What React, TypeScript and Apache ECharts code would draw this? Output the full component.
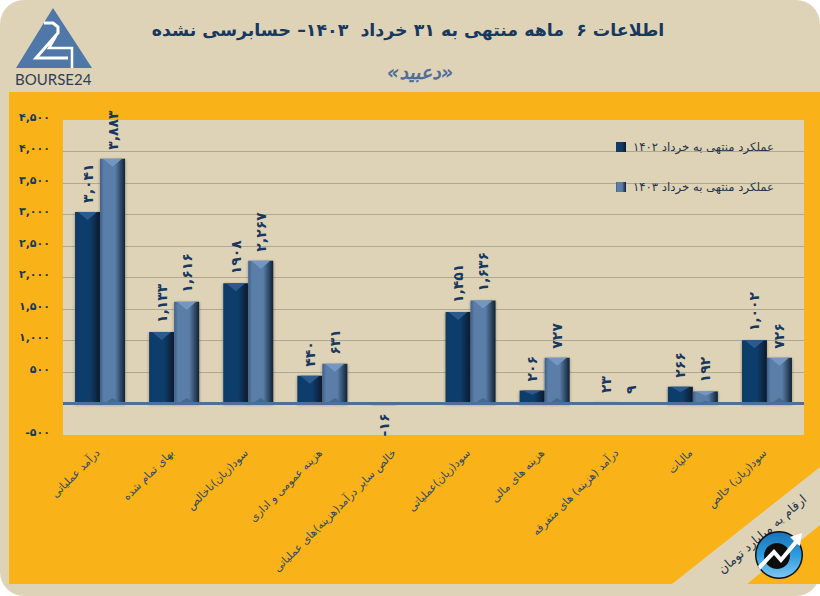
import React, { useEffect, useRef } from "react";
import * as echarts from "echarts";

const categories = [
  "درآمد عملیاتی",
  "بهای تمام شده",
  "سود(زیان)ناخالص",
  "هزینه عمومی و اداری",
  "خالص سایر درآمد(هزینه)های عملیاتی",
  "سود(زیان)عملیاتی",
  "هزینه های مالی",
  "درآمد (هزینه) های متفرقه",
  "مالیات",
  "سود(زیان) خالص",
];
const values1402 = [3041, 1133, 1908, 440, -16, 1451, 206, 23, 266, 1002];
const values1403 = [3883, 1616, 2267, 631, null, 1636, 727, 9, 192, 726];
const labels1402 = ["۳,۰۴۱", "۱,۱۳۳", "۱۹۰۸", "۴۴۰", "-۱۶", "۱,۴۵۱", "۲۰۶", "۲۳", "۲۶۶", "۱,۰۰۲"];
const labels1403 = ["۳,۸۸۳", "۱,۶۱۶", "۲,۲۶۷", "۶۳۱", "", "۱,۶۳۶", "۷۲۷", "۹", "۱۹۲", "۷۲۶"];
const yTicks = ["-۵۰۰", "", "۵۰۰", "۱,۰۰۰", "۱,۵۰۰", "۲,۰۰۰", "۲,۵۰۰", "۳,۰۰۰", "۳,۵۰۰", "۴,۰۰۰", "۴,۵۰۰"];
const seriesNames = ["عملکرد منتهی به خرداد ۱۴۰۲", "عملکرد منتهی به خرداد ۱۴۰۳"];
const titleText = "اطلاعات ۶  ماهه منتهی به ۳۱ خرداد  ۱۴۰۳– حسابرسی نشده";
const subtitleText = "«دعبید»";
const unitText = "ارقام به میلیارد تومان";

const FONT = '"DejaVu Sans", sans-serif';
const BEIGE = "#dfd3b7";
const ORANGE = "#f9b218";
const NAVY = "#17385f";
const STEEL = "#4f78a8";

const hGrad = (left: string, mid: string, right: string) =>
  new echarts.graphic.LinearGradient(0, 0, 1, 0, [
    { offset: 0, color: left },
    { offset: 0.15, color: mid },
    { offset: 0.6, color: mid },
    { offset: 1, color: right },
  ]);

const bevelRender = (offset: number, tone: string, toneBottom: string) => (_p: any, api: any) => {
  const i = api.value(0);
  const v = api.value(1);
  const top = api.coord([i, v]);
  const base = api.coord([i, 0]);
  const x0 = top[0] + offset - 12.5;
  const x1 = top[0] + offset + 12.5;
  const h = base[1] - top[1];
  if (h < 6) return { type: "group", children: [] };
  const d = Math.min(8, h / 3);
  const xm = (x0 + x1) / 2;
  return {
    type: "group",
    silent: true,
    children: [
      {
        type: "polygon",
        shape: { points: [[x0 + 3, top[1]], [x1 - 3, top[1]], [xm, top[1] + d]] },
        style: { fill: tone },
      },
      {
        type: "polygon",
        shape: { points: [[x0 + 4, base[1]], [x1 - 4, base[1]], [xm, base[1] - d * 0.7]] },
        style: { fill: toneBottom },
      },
    ],
  };
};

const barLabel = {
  show: true,
  position: "top" as const,
  distance: 9,
  rotate: 90,
  align: "left" as const,
  verticalAlign: "middle" as const,
  fontFamily: FONT,
  fontWeight: "bold" as const,
  fontSize: 14,
  color: NAVY,
};

const barData = (values: (number | null)[], labels: string[]) =>
  values.map((v, i) => ({
    value: v,
    label:
      v !== null && v < 0
        ? { ...barLabel, position: "bottom" as const, align: "right" as const, formatter: labels[i] }
        : { ...barLabel, formatter: labels[i] },
  }));

const bevelData = (values: (number | null)[]) =>
  values.map((v, i) => [i, v === null || v < 0 ? 0 : v]);

echarts.graphic.registerShape(
  "logoArrow",
  echarts.graphic.extendPath(
    "M758 566L774 549L781 557L794 541L790 537L802 533L800 546L797 544L781 563L774 555L760 570Z",
    {}
  ) as any
);

export default function App() {
  const ref = useRef<HTMLDivElement>(null);
  useEffect(() => {
    const chart = echarts.init(ref.current!, undefined, { renderer: "svg" });
    chart.setOption({
      animation: false,
      backgroundColor: "#ffffff",
      textStyle: { fontFamily: FONT },
      grid: {
        left: 63,
        right: 16,
        top: 120,
        bottom: 161,
        show: true,
        backgroundColor: BEIGE,
        borderWidth: 0,
        containLabel: false,
        outerBoundsMode: "none",
      },
      legend: {
        left: 611,
        top: 136,
        orient: "vertical",
        icon: "rect",
        itemWidth: 10,
        itemHeight: 10,
        itemGap: 28,
        data: seriesNames,
        textStyle: { fontFamily: FONT, fontSize: 11.7, color: "#26364a", padding: [0, 0, 0, 2] },
      },
      xAxis: {
        type: "category",
        data: categories,
        axisLine: { show: false, onZero: false },
        axisTick: { show: false },
        axisLabel: {
          interval: 0,
          rotate: 45,
          margin: 14,
          padding: [0, 3, 0, 0],
          fontFamily: FONT,
          fontSize: 10.9,
          color: "#2f4a63",
        },
      },
      yAxis: {
        type: "value",
        min: -500,
        max: 4500,
        interval: 500,
        axisLine: { show: false },
        axisTick: { show: false },
        splitLine: {
          show: true,
          showMinLine: false,
          showMaxLine: false,
          lineStyle: { color: "#aea893", width: 1 },
        },
        axisLabel: {
          margin: 13,
          verticalAlign: "bottom",
          lineHeight: 6,
          fontFamily: FONT,
          fontWeight: "bold",
          fontSize: 11,
          color: NAVY,
          formatter: (v: number) => yTicks[Math.round((v + 500) / 500)],
        },
      },
      series: [
        {
          name: seriesNames[0],
          type: "bar",
          barWidth: 25,
          barGap: 0,
          data: barData(values1402, labels1402),
          itemStyle: {
            color: hGrad("#123a63", "#0f3c6b", "#071a2e"),
            shadowBlur: 3,
            shadowColor: "rgba(40,40,40,0.45)",
            shadowOffsetY: 1,
          },
          markLine: {
            silent: true,
            symbol: "none",
            label: { show: false },
            lineStyle: { color: "#4f6f9a", width: 3, type: "solid" },
            data: [{ yAxis: 0 }],
            z: 5,
          },
        },
        {
          name: seriesNames[1],
          type: "bar",
          barWidth: 25,
          barGap: 0,
          data: barData(values1403, labels1403),
          itemStyle: {
            color: hGrad("#3f6088", "#5a7ea7", "#0f2236"),
            shadowBlur: 3,
            shadowColor: "rgba(40,40,40,0.45)",
            shadowOffsetY: 1,
          },
        },
        {
          name: "bevel1402",
          type: "custom",
          silent: true,
          z: 3,
          data: bevelData(values1402),
          encode: { x: 0, y: 1 },
          renderItem: bevelRender(-12.5, "#2c5a8c", "#173d63"),
        },
        {
          name: "bevel1403",
          type: "custom",
          silent: true,
          z: 3,
          data: bevelData(values1403),
          encode: { x: 0, y: 1 },
          renderItem: bevelRender(12.5, "#7497c2", "#46688e"),
        },
      ],
      graphic: {
        elements: [
          { type: "rect", z: -20, silent: true, shape: { x: 0, y: 0, width: 820, height: 596, r: 24 }, style: { fill: BEIGE } },
          { type: "rect", z: -19, silent: true, shape: { x: 9, y: 92, width: 811, height: 492 }, style: { fill: ORANGE } },
          { type: "polygon", z: 20, silent: true, shape: { points: [[820, 467], [672, 584], [747, 584], [820, 525]] }, style: { fill: BEIGE } },
          {
            type: "text",
            z: 21,
            silent: true,
            x: 762,
            y: 534,
            rotation: (41 * Math.PI) / 180,
            style: { text: unitText, fontFamily: FONT, fontSize: 12.5, fill: "#20354d", align: "center", verticalAlign: "middle" },
          },
          { type: "circle", z: 22, silent: true, shape: { cx: 779, cy: 555, r: 24 }, style: { fill: "#111111" } },
          {
            type: "circle",
            z: 23,
            silent: true,
            shape: { cx: 779, cy: 555, r: 22.5 },
            style: {
              fill: new echarts.graphic.LinearGradient(0, 0, 0, 1, [
                { offset: 0, color: "#1a73b8" },
                { offset: 0.5, color: "#2e9be0" },
                { offset: 1, color: "#7cc6f0" },
              ]),
            },
          },
          { type: "circle", z: 24, silent: true, shape: { cx: 777, cy: 556, r: 13 }, style: { fill: "#0d0d0d" } },
          { type: "logoArrow", z: 25, silent: true, x: 0, y: 0, style: { fill: "#ffffff" } },
          { type: "polygon", z: 20, silent: true, shape: { points: [[53, 8], [16, 68], [92, 68]] }, style: { fill: STEEL } },
          {
            type: "polyline",
            z: 21,
            silent: true,
            shape: { points: [[44, 23], [53, 23], [58, 27], [58, 33], [36, 58], [68, 58]] },
            style: { stroke: "#ffffff", lineWidth: 3, fill: "none" },
          },
          {
            type: "polyline",
            z: 21,
            silent: true,
            shape: { points: [[56, 36], [49, 48], [72, 48], [72, 68]] },
            style: { stroke: "#ffffff", lineWidth: 2.5, fill: "none" },
          },
          {
            type: "text",
            z: 21,
            silent: true,
            x: 15,
            y: 79,
            style: { text: "BOURSE24", fontFamily: "Lato, sans-serif", fontSize: 15, fill: "#2d3f55", verticalAlign: "middle", align: "left" },
          },
          {
            type: "text",
            z: 21,
            silent: true,
            x: 408,
            y: 30,
            style: { text: titleText, fontFamily: FONT, fontWeight: "bold", fontSize: 17.4, fill: NAVY, align: "center", verticalAlign: "middle" },
          },
          {
            type: "text",
            z: 21,
            silent: true,
            x: 420,
            y: 72,
            style: { text: subtitleText, fontFamily: FONT, fontWeight: "bold", fontStyle: "italic", fontSize: 19, fill: "#4f6f9a", align: "center", verticalAlign: "middle" },
          },
        ],
      },
    } as any);
    return () => chart.dispose();
  }, []);
  return (
    <div style={{ position: "fixed", left: 0, top: 0, width: 820, height: 596 }}>
      <div ref={ref} style={{ width: 820, height: 596 }} />
    </div>
  );
}
